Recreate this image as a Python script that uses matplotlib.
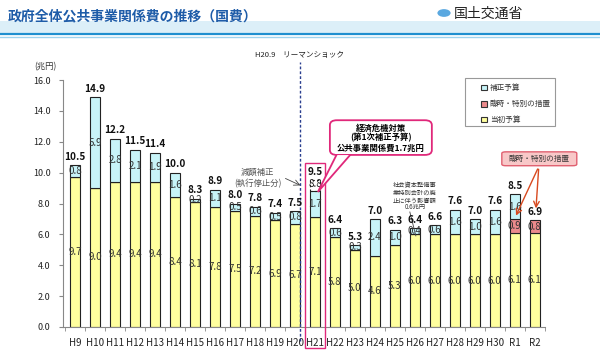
import matplotlib

matplotlib.use("Agg")
import matplotlib.pyplot as plt
from matplotlib.patches import Rectangle, FancyBboxPatch, Polygon, Circle

plt.rcParams["font.family"] = ["Noto Sans CJK JP", "DejaVu Sans"]

years = ["H9", "H10", "H11", "H12", "H13", "H14", "H15", "H16", "H17", "H18",
         "H19", "H20", "H21", "H22", "H23", "H24", "H25", "H26", "H27", "H28",
         "H29", "H30", "R1", "R2"]
initial = [9.7, 9.0, 9.4, 9.4, 9.4, 8.4, 8.1, 7.8, 7.5, 7.2,
           6.9, 6.7, 7.1, 5.8, 5.0, 4.6, 5.3, 6.0, 6.0, 6.0,
           6.0, 6.0, 6.1, 6.1]
special = [0, 0, 0, 0, 0, 0, 0, 0, 0, 0,
           0, 0, 0, 0, 0, 0, 0, 0, 0, 0,
           0, 0, 0.9, 0.8]
supplement = [0.8, 5.9, 2.8, 2.1, 1.9, 1.6, 0.2, 1.1, 0.5, 0.6,
              0.5, 0.8, 1.7, 0.6, 0.3, 2.4, 1.0, 0.4, 0.6, 1.6,
              1.0, 1.6, 1.6, 0]
totals = ["10.5", "14.9", "12.2", "11.5", "11.4", "10.0", "8.3", "8.9", "8.0", "7.8",
          "7.4", "7.5", "9.5", "6.4", "5.3", "7.0", "6.3", "6.4", "6.6", "7.6",
          "7.0", "7.6", "8.5", "6.9"]
h21_reduced = 9.5  # before 減額補正

YELLOW = "#FFFF9E"
CYAN = "#C8F4F8"
RED = "#EC8A8C"
PINK = "#E0287A"

fig = plt.figure(figsize=(6.0, 3.53), dpi=100)
ax = fig.add_axes([0.105, 0.074, 0.803, 0.699])

x = list(range(len(years)))
w = 0.52
ax.bar(x, initial, w, color=YELLOW, edgecolor="#222222", linewidth=0.8, zorder=2)
ax.bar(x, special, w, bottom=initial, color=RED, edgecolor="#222222", linewidth=0.8, zorder=2)
bot2 = [a + b for a, b in zip(initial, special)]
sup_idx = [i for i in x if supplement[i] > 0]
ax.bar([x[i] for i in sup_idx], [supplement[i] for i in sup_idx], w,
       bottom=[bot2[i] for i in sup_idx], color=CYAN, edgecolor="#222222",
       linewidth=0.8, zorder=2)

# H21 reduced part (dashed)
i21 = years.index("H21")
top21 = bot2[i21] + supplement[i21]
ax.bar([i21], [h21_reduced - top21], w, bottom=[top21], fill=False,
       edgecolor="#222222", linewidth=0.8, linestyle=(0, (2, 2)), zorder=2)
ax.text(i21, top21 + 0.12, f"{top21:.1f}", ha="center", va="bottom", fontsize=7,
        color="#222222", zorder=4)

for i in x:
    top = bot2[i] + supplement[i]
    if i == i21:
        top = h21_reduced
    ax.text(i, top + 0.22, totals[i], ha="center", va="bottom", fontsize=7.2,
            fontweight="bold", color="#111111", zorder=4)
    ax.text(i, initial[i] / 2, f"{initial[i]:.1f}", ha="center", va="center",
            fontsize=7, color="#333333", zorder=4)
    if special[i] > 0:
        ax.text(i, initial[i] + special[i] / 2, f"{special[i]:.1f}", ha="center",
                va="center", fontsize=7, color="#333333", zorder=4)
    if supplement[i] > 0:
        ax.text(i, bot2[i] + supplement[i] / 2, f"{supplement[i]:.1f}", ha="center",
                va="center", fontsize=7, color="#333333", zorder=4)

ax.set_xlim(-0.6, 23.5)
ax.set_ylim(0, 16)
ax.set_yticks([0, 2, 4, 6, 8, 10, 12, 14, 16])
ax.set_yticklabels([f"{v:.1f}" for v in range(0, 17, 2)], fontsize=6.5, color="#222222")
ax.set_xticks(x)
ax.set_xticklabels(years, fontsize=7, color="#222222")
ax.tick_params(axis="x", length=0, pad=8)
ax.set_xticks([i + 0.5 for i in range(-1, len(years))], minor=True)
ax.tick_params(axis="x", which="minor", length=3, color="#888888")
ax.tick_params(axis="y", length=3, color="#888888", pad=6)
for s in ["top", "right"]:
    ax.spines[s].set_visible(False)
for s in ["left", "bottom"]:
    ax.spines[s].set_color("#888888")
ax.text(-1.5, 16.9, "(兆円)", fontsize=6, color="#333333", ha="center", va="center")

# Lehman shock line
ax.plot([11.25, 11.25], [-0.9, 17.2], color="#2a3f8f", linestyle=(0, (2, 1.5)),
        linewidth=1.0, clip_on=False, zorder=3)
ax.text(11.25, 17.6, "H20.9　リーマンショック", fontsize=5.5, ha="center", va="center",
        color="#222222")

# pink box around H21
ax.add_patch(Rectangle((11.5, -1.35), 1.0, 11.95, fill=False, edgecolor=PINK,
                       linewidth=1.0, clip_on=False, zorder=3))

# 減額補正 note
ax.text(9.15, 10.05, "減額補正", fontsize=6, ha="center", va="center", color="#555555")
ax.text(9.15, 9.3, "(執行停止分)", fontsize=6, ha="center", va="center", color="#555555")
ax.annotate("", xy=(11.4, 9.1), xytext=(10.4, 9.7),
            arrowprops=dict(arrowstyle="->", color="#444444", lw=0.6))

# callout for H21
callout = FancyBboxPatch((12.75, 11.15), 5.1, 2.25, boxstyle="round,pad=0,rounding_size=0.35",
                         facecolor="white", edgecolor=PINK, linewidth=1.3,
                         mutation_aspect=0.9, clip_on=False, zorder=5)
ax.add_patch(callout)
ax.add_patch(Polygon([(13.1, 11.2), (13.8, 11.2), (12.15, 8.75)], closed=True,
                     facecolor="white", edgecolor=PINK, linewidth=1.3, zorder=5))
ax.add_patch(Rectangle((13.0, 11.2), 0.9, 0.15, facecolor="white", edgecolor="none", zorder=6))
ax.text(15.3, 12.9, "経済危機対策", fontsize=6, fontweight="bold", ha="center", va="center", zorder=7)
ax.text(15.3, 12.25, "(第1次補正予算)", fontsize=6, fontweight="bold", ha="center", va="center", zorder=7)
ax.text(15.3, 11.6, "公共事業関係費1.7兆円", fontsize=6, fontweight="bold", ha="center", va="center", zorder=7)

# 社会資本 note
for yy, t in zip([9.2, 8.7, 8.2, 7.75],
                 ["社会資本整備事", "業特別会計の廃", "止に伴う影響額", "0.6兆円"]):
    ax.text(17.0, yy, t, fontsize=4.5, ha="center", va="center", color="#333333")
ax.plot([16.75, 17.05], [7.45, 5.9], color="#444444", linewidth=0.6)

# legend box
ax.add_patch(Rectangle((19.5, 13.0), 4.5, 3.15, facecolor="white", edgecolor="#999999",
                       linewidth=0.8, clip_on=False, zorder=5))
for yy, col, lab in [(15.5, CYAN, "補正予算"), (14.45, RED, "臨時・特別の措置"),
                     (13.45, YELLOW, "当初予算")]:
    ax.add_patch(Rectangle((20.3, yy - 0.17), 0.3, 0.34, facecolor=col, edgecolor="#333333",
                           linewidth=0.8, clip_on=False, zorder=6))
    ax.text(20.75, yy, lab, fontsize=5.5, ha="left", va="center", color="#333333", zorder=6)

# 臨時・特別の措置 callout
ax.add_patch(FancyBboxPatch((21.35, 10.45), 3.75, 0.9, boxstyle="round,pad=0,rounding_size=0.2",
                            facecolor="#F8C8C8", edgecolor="#E06070", linewidth=1.0,
                            mutation_aspect=0.5, clip_on=False, zorder=5))
ax.text(23.22, 10.9, "臨時・特別の措置", fontsize=5.5, ha="center", va="center",
        color="#333333", zorder=6)
for tx, ty in [(22.0, 7.05), (23.05, 7.5)]:
    ax.annotate("", xy=(tx, ty), xytext=(23.2, 10.4),
                arrowprops=dict(arrowstyle="->", color="#D84A20", lw=1.0), zorder=6)

# header
fig.patches.append(Rectangle((0, 1 - 33 / 353), 1, 12 / 353, transform=fig.transFigure,
                             facecolor="#DCEFF8", edgecolor="none", zorder=0))
fig.lines.append(plt.Line2D([0, 1], [1 - 34 / 353] * 2, transform=fig.transFigure,
                            color="#1F8FCF", linewidth=1.6))
fig.lines.append(plt.Line2D([0, 1], [1 - 37 / 353] * 2, transform=fig.transFigure,
                            color="#9ED3EE", linewidth=1.0))
fig.text(8 / 600, 1 - 16 / 353, "政府全体公共事業関係費の推移（国費）", fontsize=10,
         fontweight="bold", color="#1E5CA8", ha="left", va="center")
fig.patches.append(Circle((444 / 600, 1 - 13 / 353), 0.011, transform=fig.transFigure,
                          facecolor="#5AA8E0", edgecolor="none"))
fig.text(454 / 600, 1 - 14 / 353, "国土交通省", fontsize=10, color="#222222",
         ha="left", va="center")

fig.savefig("out.png", dpi=100)
